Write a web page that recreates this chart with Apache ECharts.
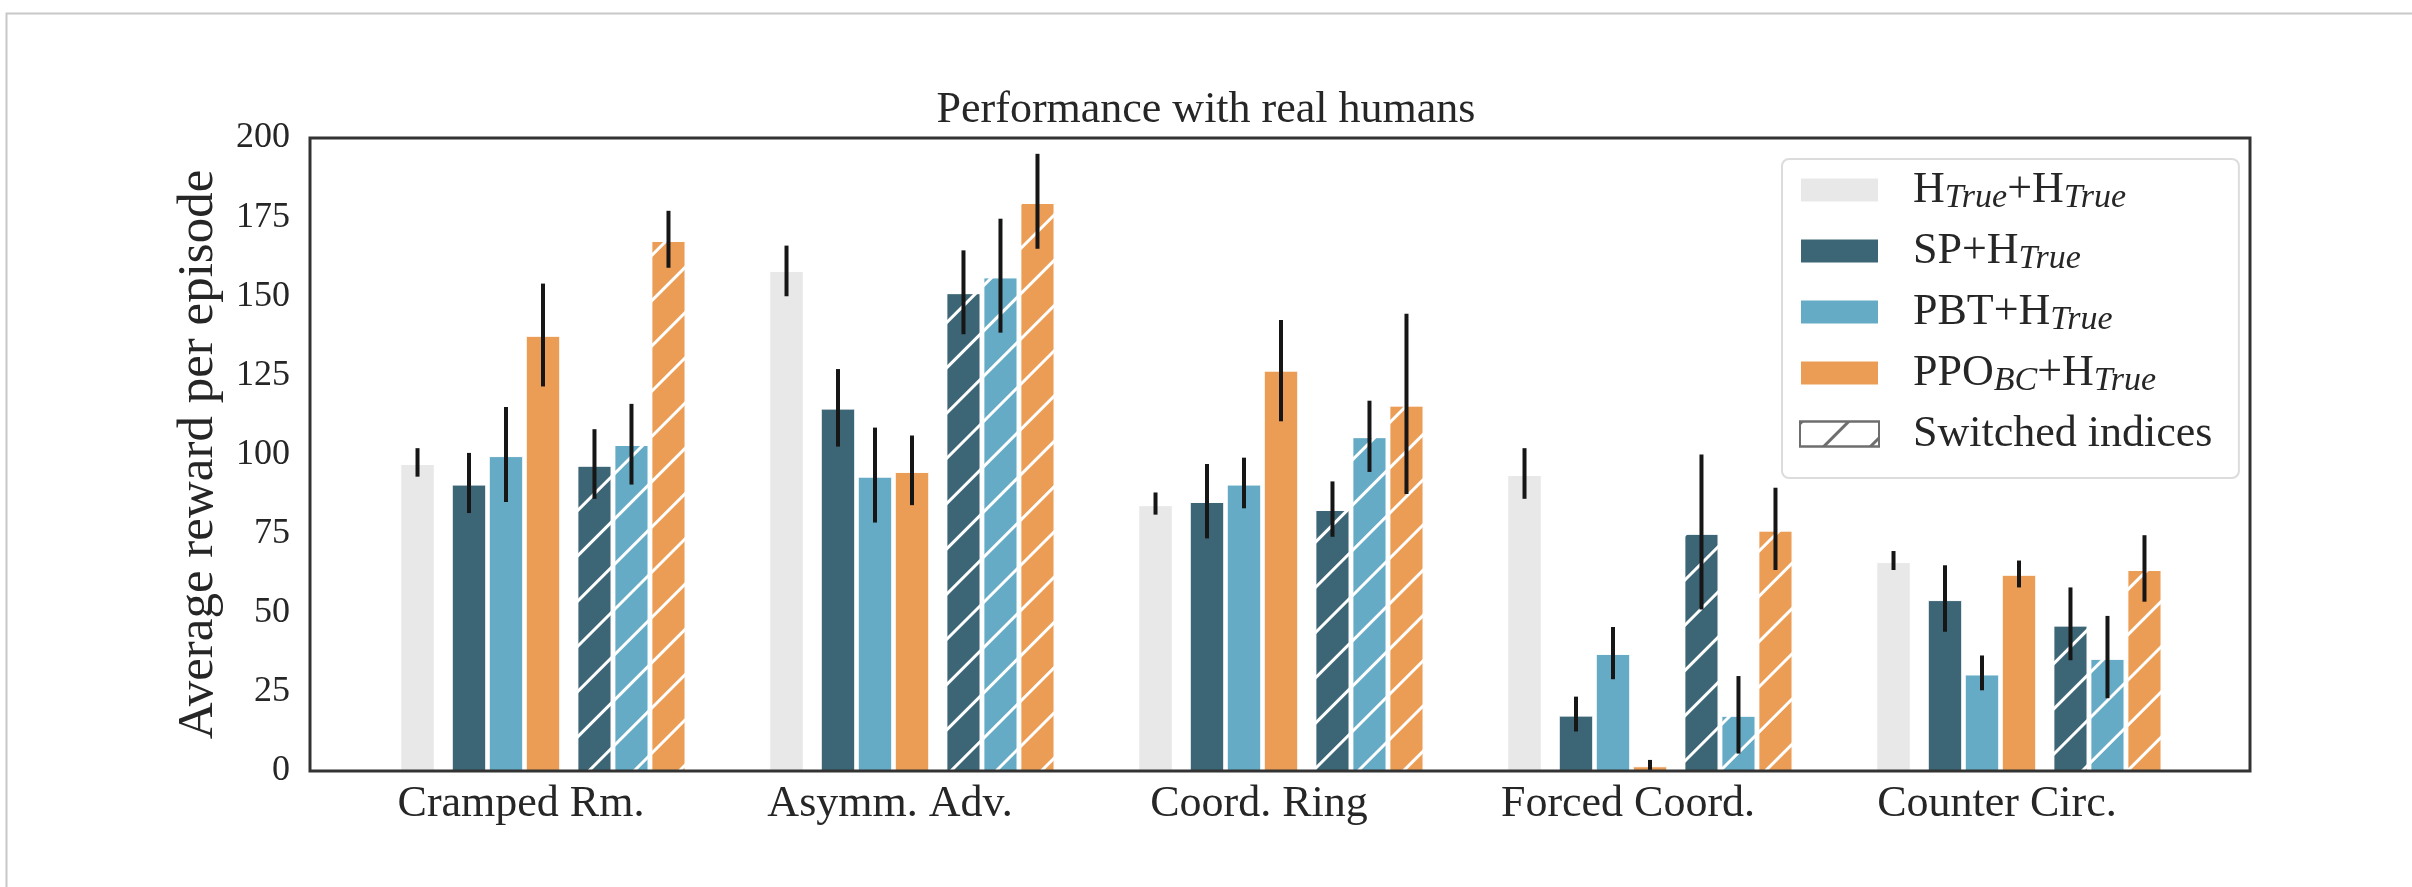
<!DOCTYPE html>
<html><head><meta charset="utf-8">
<script src="https://cdn.jsdelivr.net/npm/echarts@6/dist/echarts.min.js"></script>
<style>html,body{margin:0;padding:0;background:#fff}#c{width:2412px;height:887px}</style>
</head><body><div id="c"></div>
<script>
// ---------------- data ----------------
const categories = ['Cramped Rm.', 'Asymm. Adv.', 'Coord. Ring', 'Forced Coord.', 'Counter Circ.'];
const yTickInterval = 25;
const hTrue    = [97, 158, 84, 93.5, 66];
const hTrueErr = [[93, 102], [150, 166], [81, 88], [86, 102], [63.5, 69.5]];
const sp       = [90.5, 114.5, 85, 17.5, 54];
const spErr    = [[81.5, 100.5], [102.5, 127], [73.5, 97], [12.5, 23.5], [44, 65]];
const pbt      = [99.5, 93, 90.5, 37, 30.5];
const pbtErr   = [[85, 115], [78.5, 108.5], [83, 99], [29, 45.5], [25.5, 36.5]];
const ppo      = [137.5, 94.5, 126.5, 1.5, 62];
const ppoErr   = [[121.5, 154], [84, 106], [110.5, 142.5], [0, 3.5], [58, 66.5]];
const spSw     = [96.5, 151, 82.5, 75, 46];
const spSwErr  = [[86, 108], [138, 164.5], [74, 91.5], [51, 100], [35, 58]];
const pbtSw    = [103, 156, 105.5, 17.5, 35.5];
const pbtSwErr = [[90.5, 116], [138.5, 174.5], [94.5, 117], [5.5, 30], [23, 49]];
const ppoSw    = [167.5, 179.5, 115.5, 76, 63.5];
const ppoSwErr = [[159, 177], [165, 195], [87.5, 144.5], [63.5, 89.5], [53.5, 74.5]];

// ---------------- style / layout ----------------
const FONT = 'Liberation Serif';
const TXT = '#262626';
const C_GRAY = '#e8e8e8', C_SP = '#3c6575', C_PBT = '#66abc5', C_PPO = '#eb9c55';
const BW = 34.5, SW = 13.5, GAP = 0.0725;
const slotWidths = [BW, SW, BW, BW, BW, SW, BW, BW, BW];
let total = 0; slotWidths.forEach(w => total += w * (1 + GAP)); total -= BW * GAP;
const slotCenters = []; { let off = -total / 2; slotWidths.forEach(w => { slotCenters.push(off + w / 2); off += w * (1 + GAP); }); }

const hatch = (color, gap) => ({ symbol: 'rect', symbolSize: 1, symbolKeepAspect: false, color: color,
  dashArrayX: [1, 0], dashArrayY: [3, gap], rotation: -Math.PI / 4 });

function barSeries(name, data, color, hatched) {
  return { type: 'bar', name: name, data: data, xAxisIndex: 1, yAxisIndex: 1,
    barWidth: BW, barGap: (GAP * 100) + '%',
    itemStyle: Object.assign({ color: color, borderColor: '#fff', borderWidth: 1 }, hatched ? { decal: hatch('#fff', 29) } : {}),
    emphasis: { disabled: true }, silent: true };
}
function spacer(name) {
  return { type: 'bar', name: name, data: categories.map(() => '-'), xAxisIndex: 1, yAxisIndex: 1,
    barWidth: SW, barGap: (GAP * 100) + '%', silent: true };
}
const groups = [
  [hTrueErr, 0], [spErr, 2], [pbtErr, 3], [ppoErr, 4], [spSwErr, 6], [pbtSwErr, 7], [ppoSwErr, 8]
];
const errData = [];
groups.forEach(([arr, slot]) => arr.forEach((e, i) => errData.push([i, e[0], e[1], slot])));

const legendText = {
  'H+H': '{g| }{m|H}{s|True}{m|+H}{s|True}',
  'SP+H': '{g| }{m|SP+H}{s|True}',
  'PBT+H': '{g| }{m|PBT+H}{s|True}',
  'PPO+H': '{g| }{m|PPO}{s|BC}{m|+H}{s|True}',
  'Switched indices': '{g| }{m|Switched indices}{s| }'
};

const chart = echarts.init(document.getElementById('c'), null, { renderer: 'canvas' });
chart.setOption({
  backgroundColor: '#fff',
  animation: false,
  graphic: [
    { type: 'rect', left: 4, top: 11, shape: { width: 2600, height: 1000 }, style: { fill: 'none', stroke: '#c8c8c8', lineWidth: 2 }, silent: true, z: -10 },
    { type: 'text', x: 1206, y: 88, style: { text: 'Performance with real humans', font: '44px "Liberation Serif"', fill: TXT, align: 'center', verticalAlign: 'top' }, silent: true }
  ],
  grid: [
    { left: 310, top: 138, width: 1940, height: 633, show: true, borderColor: '#333', borderWidth: 3, backgroundColor: 'transparent', z: 10 },
    { left: 358.5, top: 138, width: 1845, height: 633 }
  ],
  xAxis: [
    { type: 'category', gridIndex: 0, data: [''], show: false },
    { type: 'category', gridIndex: 1, data: categories, boundaryGap: true,
      axisLine: { show: false }, axisTick: { show: false },
      axisLabel: { fontFamily: FONT, fontSize: 44, color: TXT, margin: 11, padding: [0, 44, 0, 0] } }
  ],
  yAxis: [
    { type: 'value', gridIndex: 0, min: 0, max: 200, interval: yTickInterval,
      axisLine: { show: false }, axisTick: { show: false }, splitLine: { show: false },
      axisLabel: { fontFamily: FONT, fontSize: 36, color: TXT, margin: 20 },
      name: 'Average reward per episode', nameLocation: 'middle', nameGap: 86,
      nameTextStyle: { fontFamily: FONT, fontSize: 51, color: TXT } },
    { type: 'value', gridIndex: 1, min: 0, max: 200, interval: yTickInterval, show: false }
  ],
  legend: {
    orient: 'vertical', left: 1782, top: 159,
    padding: [9, 18, 19, 17], itemWidth: 79, itemHeight: 25, itemGap: 14,
    backgroundColor: '#fff', borderColor: '#dcdcdc', borderWidth: 2, borderRadius: 7,
    icon: 'rect', selectedMode: false,
    data: ['H+H', 'SP+H', 'PBT+H', 'PPO+H', 'Switched indices'],
    formatter: n => legendText[n],
    textStyle: { rich: {
      g: { width: 29 },
      m: { fontFamily: FONT, fontSize: 44, color: TXT },
      s: { fontFamily: FONT, fontSize: 34, fontStyle: 'italic', color: TXT, padding: [16, 0, 0, 0] }
    } }
  },
  series: [
    barSeries('H+H', hTrue, C_GRAY, false),
    spacer('_s1'),
    barSeries('SP+H', sp, C_SP, false),
    barSeries('PBT+H', pbt, C_PBT, false),
    barSeries('PPO+H', ppo, C_PPO, false),
    spacer('_s2'),
    barSeries('SP+H', spSw, C_SP, true),
    barSeries('PBT+H', pbtSw, C_PBT, true),
    barSeries('PPO+H', ppoSw, C_PPO, true),
    { type: 'bar', name: 'Switched indices', xAxisIndex: 0, yAxisIndex: 0, data: ['-'],
      itemStyle: { color: '#fff', borderColor: '#6e6e6e', borderWidth: 2, decal: hatch('#6e6e6e', 30) } },
    { type: 'custom', name: '_err', xAxisIndex: 1, yAxisIndex: 1, data: errData, z: 5, silent: true,
      encode: { x: 0, y: [1, 2] },
      renderItem: function (params, api) {
        const cat = api.value(0);
        const lo = api.coord([cat, api.value(1)]);
        const hi = api.coord([cat, api.value(2)]);
        const x = lo[0] + slotCenters[api.value(3)];
        return { type: 'line', shape: { x1: x, y1: lo[1], x2: x, y2: hi[1] },
          style: { stroke: '#161616', lineWidth: 4, lineCap: 'butt' } };
      } }
  ]
});
</script></body></html>
